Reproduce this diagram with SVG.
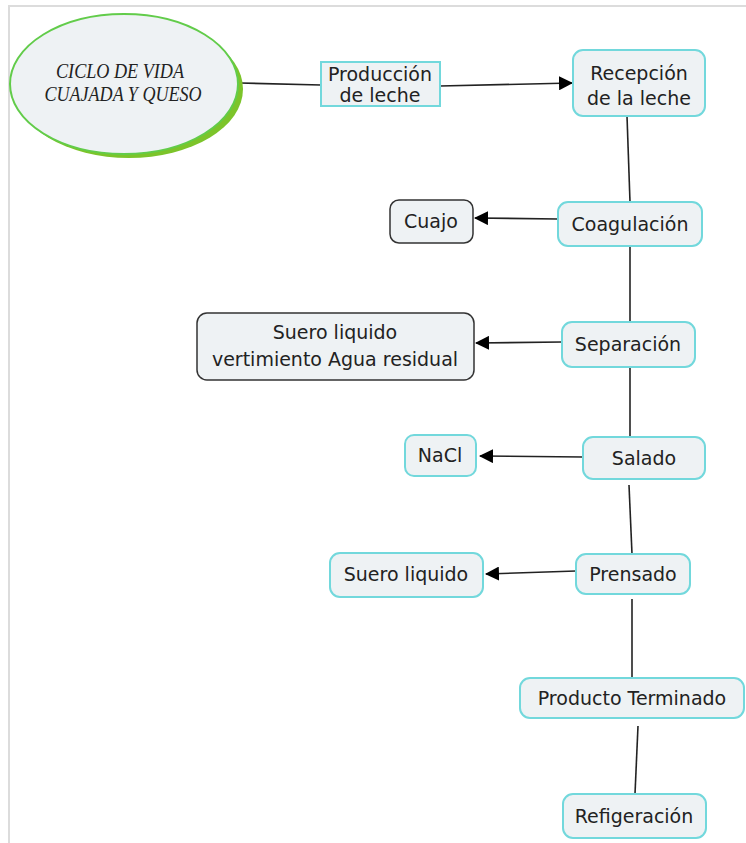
<svg xmlns="http://www.w3.org/2000/svg" width="746" height="843" viewBox="0 0 746 843">
<defs>
<style>
.n{fill:#eef2f4;stroke:#72d8dc;stroke-width:2}
.d{fill:#eef2f4;stroke:#333;stroke-width:1.5}
.t{font-family:"DejaVu Sans",Verdana,sans-serif;font-size:19px;fill:#222;text-anchor:middle}
.e{font-family:"Liberation Serif",serif;font-style:italic;font-size:20px;fill:#222;text-anchor:middle}
.c{stroke:#222;stroke-width:1.6;fill:none}
.a{marker-end:url(#ar)}
</style>
<marker id="ar" markerWidth="14" markerHeight="14" refX="13" refY="7" orient="auto" markerUnits="userSpaceOnUse">
<path d="M0,0 L14,7 L0,14 Z" fill="#000"/>
</marker>
</defs>
<rect width="746" height="843" fill="#fff"/>
<path d="M9,843 V6 H746" fill="none" stroke="#dcdcdc" stroke-width="2"/>
<g id="connectors">
<line class="c" x1="240" y1="83" x2="321" y2="85"/>
<line class="c a" x1="440" y1="86" x2="572" y2="83"/>
<line class="c" x1="627" y1="116" x2="630" y2="202"/>
<line class="c a" x1="558" y1="219" x2="475" y2="218"/>
<line class="c" x1="630" y1="246" x2="630" y2="322"/>
<line class="c a" x1="562" y1="342" x2="476" y2="343"/>
<line class="c" x1="630" y1="367" x2="630" y2="437"/>
<line class="c a" x1="583" y1="457" x2="480" y2="456"/>
<line class="c" x1="629" y1="485" x2="632" y2="554"/>
<line class="c a" x1="576" y1="571" x2="486" y2="574"/>
<line class="c" x1="632" y1="599" x2="632" y2="678"/>
<line class="c" x1="638" y1="726" x2="635" y2="794"/>
</g>
<g id="ciclo">
<ellipse cx="129" cy="89" rx="114" ry="69" fill="#7cc42a"/>
<ellipse cx="124" cy="84" rx="114" ry="70" fill="#eef2f4" stroke="#62cc4a" stroke-width="2"/>
<text class="e" x="120" y="78" textLength="128" lengthAdjust="spacingAndGlyphs">CICLO DE VIDA</text>
<text class="e" x="123" y="101" textLength="157" lengthAdjust="spacingAndGlyphs">CUAJADA Y QUESO</text>
</g>
<g id="produccion">
<rect class="n" x="321" y="62" width="119" height="44"/>
<text class="t" x="380" y="81">Producción</text>
<text class="t" x="380" y="102">de leche</text>
</g>
<g id="recepcion">
<rect class="n" x="573" y="50" width="132" height="66" rx="10"/>
<text class="t" x="639" y="80">Recepción</text>
<text class="t" x="639" y="105">de la leche</text>
</g>
<g id="coagulacion">
<rect class="n" x="558" y="202" width="144" height="44" rx="10"/>
<text class="t" x="630" y="231">Coagulación</text>
</g>
<g id="cuajo">
<rect class="d" x="390" y="200" width="83" height="43" rx="9"/>
<text class="t" x="431" y="228">Cuajo</text>
</g>
<g id="separacion">
<rect class="n" x="562" y="322" width="133" height="45" rx="10"/>
<text class="t" x="628" y="351">Separación</text>
</g>
<g id="suero-agua">
<rect class="d" x="197" y="313" width="277" height="67" rx="10"/>
<text class="t" x="335" y="339">Suero liquido</text>
<text class="t" x="335" y="366">vertimiento Agua residual</text>
</g>
<g id="salado">
<rect class="n" x="583" y="437" width="122" height="42" rx="10"/>
<text class="t" x="644" y="465">Salado</text>
</g>
<g id="nacl">
<rect class="n" x="405" y="435" width="71" height="41" rx="9"/>
<text class="t" x="440" y="462">NaCl</text>
</g>
<g id="prensado">
<rect class="n" x="576" y="554" width="114" height="40" rx="10"/>
<text class="t" x="633" y="581">Prensado</text>
</g>
<g id="suero">
<rect class="n" x="330" y="553" width="153" height="44" rx="10"/>
<text class="t" x="406" y="581">Suero liquido</text>
</g>
<g id="producto">
<rect class="n" x="520" y="678" width="224" height="40" rx="10"/>
<text class="t" x="632" y="705">Producto Terminado</text>
</g>
<g id="refrigeracion">
<rect class="n" x="563" y="794" width="143" height="44" rx="10"/>
<text class="t" x="634" y="823">Refigeración</text>
</g>
</svg>
